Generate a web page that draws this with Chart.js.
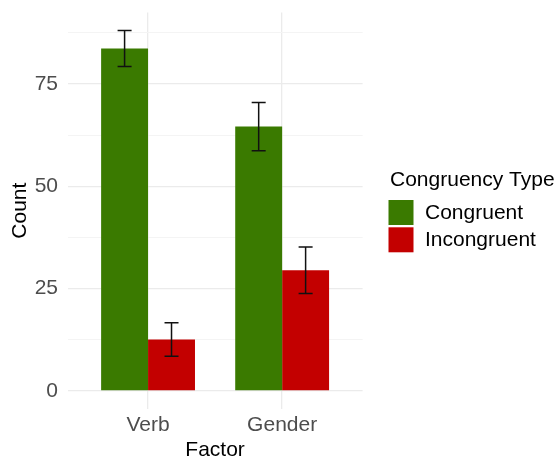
<!DOCTYPE html>
<html>
<head>
<meta charset="utf-8">
<script src="https://cdn.jsdelivr.net/npm/chart.js@4/dist/chart.umd.min.js"></script>
<style>
  html, body { margin: 0; padding: 0; background: #fff; }
  #wrap { width: 557px; height: 457px; }
</style>
</head>
<body>
<div id="wrap"><canvas id="c" width="557" height="457"></canvas></div>
<script>
// ---- Data ----
const categories = ['Verb', 'Gender'];
const seriesNames = ['Congruent', 'Incongruent'];
const congruent = [83.7, 64.6];
const incongruent = [12.6, 29.5];
const congruentErr = [4.4, 5.9];
const incongruentErr = [4.1, 5.7];
const yTickLabels = [0, 25, 50, 75];
const yMinorTicks = [12.5, 37.5, 62.5, 87.5];
const legendTitle = 'Congruency Type';
const xTitle = 'Factor';
const yTitle = 'Count';

// ---- Style ----
const FONT = "'Liberation Sans', Arial, Helvetica, sans-serif";
const FS = 21;
const colors = ['#3a7a00', '#c30000'];
const errors = [congruentErr, incongruentErr];
const values = [congruent, incongruent];

const errorBarPlugin = {
  id: 'errorBars',
  afterDatasetsDraw(chart) {
    const ctx = chart.ctx;
    const ys = chart.scales.y;
    ctx.save();
    ctx.strokeStyle = '#111';
    ctx.lineWidth = 1.5;
    chart.data.datasets.forEach((ds, i) => {
      const meta = chart.getDatasetMeta(i);
      meta.data.forEach((el, j) => {
        const v = values[i][j], e = errors[i][j];
        const x = el.x;
        const yt = ys.getPixelForValue(v + e);
        const yb = ys.getPixelForValue(v - e);
        const cap = 7;
        ctx.beginPath();
        ctx.moveTo(x, yt); ctx.lineTo(x, yb);
        ctx.moveTo(x - cap, yt); ctx.lineTo(x + cap, yt);
        ctx.moveTo(x - cap, yb); ctx.lineTo(x + cap, yb);
        ctx.stroke();
      });
    });
    ctx.restore();
  }
};

const legendPlugin = {
  id: 'customLegend',
  afterDraw(chart) {
    const ctx = chart.ctx;
    ctx.save();
    ctx.fillStyle = '#000';
    ctx.textBaseline = 'middle';
    ctx.textAlign = 'left';
    ctx.font = FS + 'px ' + FONT;
    ctx.fillText(legendTitle, 390, 180);
    chart.data.datasets.forEach((ds, i) => {
      const top = 200 + i * 27.3;
      ctx.fillStyle = ds.backgroundColor;
      ctx.fillRect(388.5, top, 25, 25);
      ctx.fillStyle = '#000';
      ctx.fillText(ds.label, 425, top + 13);
    });
    ctx.restore();
  }
};

const datasets = seriesNames.map((name, i) => ({
  label: name,
  data: values[i].map((v, j) => ({ x: j + 1, y: v })),
  backgroundColor: colors[i],
  borderWidth: 0,
  barPercentage: 1.0,
  categoryPercentage: 0.7
}));

new Chart(document.getElementById('c'), {
  type: 'bar',
  data: { datasets },
  options: {
    responsive: false,
    animation: false,
    devicePixelRatio: 1,
    layout: { padding: { top: 12.4, right: 194.4, bottom: 0, left: 0 } },
    plugins: {
      legend: { display: false },
      tooltip: { enabled: false }
    },
    scales: {
      x: {
        type: 'linear',
        min: 0.4,
        max: 2.6,
        offset: false,
        afterBuildTicks(scale) {
          scale.ticks = categories.map((c, i) => ({ value: i + 1 }));
        },
        afterFit(scale) {
          scale.height = 48;
          scale.paddingLeft = 0; scale.paddingRight = 0;
        },
        ticks: {
          autoSkip: false,
          maxRotation: 0,
          padding: 3.4,
          color: '#4d4d4d',
          font: { family: FONT, size: FS },
          callback: (v) => categories[Math.round(v) - 1] || ''
        },
        grid: { color: '#ebebeb', lineWidth: 1.3, drawTicks: false, offset: false },
        border: { display: false },
        title: {
          display: true,
          text: xTitle,
          color: '#000',
          font: { family: FONT, size: FS, lineHeight: 1 },
          padding: { top: 0, bottom: -3.5 }
        }
      },
      y: {
        min: -4.4,
        max: 92.5,
        afterBuildTicks(scale) {
          const all = yTickLabels.concat(yMinorTicks).sort((a, b) => a - b);
          scale.ticks = all.map(v => ({ value: v }));
        },
        afterFit(scale) {
          scale.width = 67.6;
          scale.paddingTop = 0; scale.paddingBottom = 0;
        },
        ticks: {
          autoSkip: false,
          padding: 9.6,
          color: '#4d4d4d',
          font: { family: FONT, size: FS },
          callback: (v) => yTickLabels.includes(v) ? String(v) : ''
        },
        grid: {
          drawTicks: false,
          color: (c) => yTickLabels.includes(c.tick && c.tick.value) ? '#ebebeb' : '#f4f4f4',
          lineWidth: (c) => yTickLabels.includes(c.tick && c.tick.value) ? 1.3 : 1
        },
        border: { display: false },
        title: {
          display: true,
          text: yTitle,
          color: '#000',
          font: { family: FONT, size: FS },
          padding: { top: 8, bottom: 0 }
        }
      }
    }
  },
  plugins: [errorBarPlugin, legendPlugin]
});
</script>
</body>
</html>
